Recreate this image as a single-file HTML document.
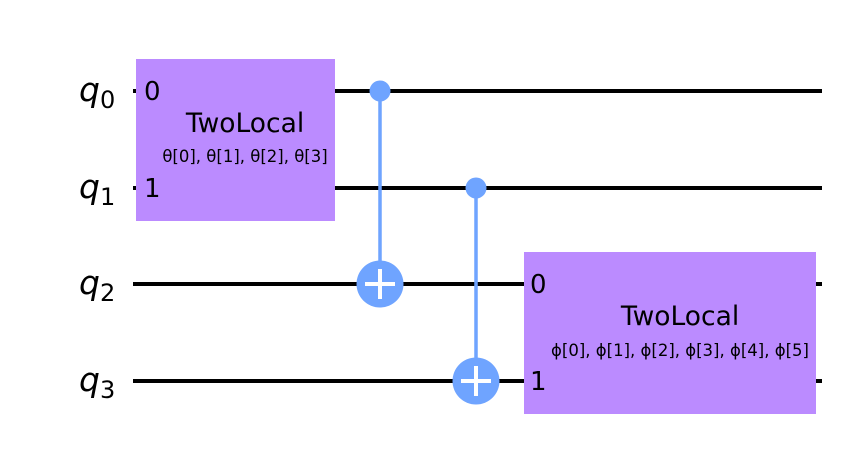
<!DOCTYPE html>
<html><head><meta charset="utf-8"><style>
html,body{margin:0;padding:0;background:#fff;}
</style></head><body>
<svg width="844" height="454" xmlns="http://www.w3.org/2000/svg" font-family="DejaVu Sans, Liberation Sans, sans-serif">
<rect width="844" height="454" fill="#fff"/>
<g stroke="#000" stroke-width="4">
<line x1="133" y1="91" x2="822" y2="91"/>
<line x1="133" y1="188" x2="822" y2="188"/>
<line x1="133" y1="284" x2="822" y2="284"/>
<line x1="133" y1="381" x2="822" y2="381"/>
</g>
<g font-style="italic" font-size="33" fill="#000">
<text x="79" y="101">q<tspan font-size="24" font-style="normal" dy="7">0</tspan></text>
<text x="79" y="198">q<tspan font-size="24" font-style="normal" dy="7">1</tspan></text>
<text x="79" y="294">q<tspan font-size="24" font-style="normal" dy="7">2</tspan></text>
<text x="79" y="391">q<tspan font-size="24" font-style="normal" dy="7">3</tspan></text>
</g>
<rect x="136" y="59" width="199" height="162" fill="#bb8bff"/>
<rect x="524" y="252" width="292" height="162" fill="#bb8bff"/>
<g fill="#000" font-size="26">
<text x="144" y="100">0</text>
<text x="144" y="197">1</text>
<text x="530" y="293">0</text>
<text x="530" y="390">1</text>
</g>
<g fill="#000" font-size="26.5">
<text x="245" y="132" text-anchor="middle">TwoLocal</text>
<text x="680" y="325" text-anchor="middle">TwoLocal</text>
</g>
<g fill="#000" font-size="16.5">
<text x="245" y="162" text-anchor="middle">θ[0], θ[1], θ[2], θ[3]</text>
<text x="680" y="356" text-anchor="middle">ϕ[0], ϕ[1], ϕ[2], ϕ[3], ϕ[4], ϕ[5]</text>
</g>
<g fill="#6fa4ff" stroke="#6fa4ff">
<line x1="380" y1="91" x2="380" y2="284" stroke-width="3.5"/>
<circle cx="380" cy="91" r="10.5" stroke="none"/>
<circle cx="380" cy="284" r="23.5" stroke="none"/>
<line x1="476" y1="188" x2="476" y2="381" stroke-width="3.5"/>
<circle cx="476" cy="188" r="10.5" stroke="none"/>
<circle cx="476" cy="381" r="23.5" stroke="none"/>
</g>
<g stroke="#fff" stroke-width="4">
<line x1="365" y1="284" x2="395" y2="284"/>
<line x1="380" y1="269" x2="380" y2="299"/>
<line x1="461" y1="381" x2="491" y2="381"/>
<line x1="476" y1="366" x2="476" y2="396"/>
</g>
</svg>
</body></html>
